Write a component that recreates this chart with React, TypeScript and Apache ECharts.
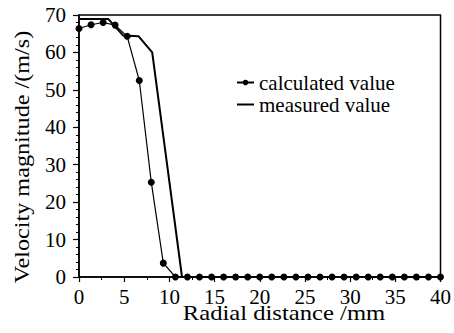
import React, { useEffect, useRef } from "react";
import * as echarts from "echarts";

const calcX = [0, 1.33, 2.67, 4, 5.33, 6.67, 8, 9.33, 10.67, 12, 13.33, 14.67, 16, 17.33, 18.67, 20, 21.33, 22.67, 24, 25.33, 26.67, 28, 29.33, 30.67, 32, 33.33, 34.67, 36, 37.33, 38.67, 40];
const calcY = [66.4, 67.4, 68.0, 67.3, 64.3, 52.5, 25.3, 3.7, 0, 0, 0, 0, 0, 0, 0, 0, 0, 0, 0, 0, 0, 0, 0, 0, 0, 0, 0, 0, 0, 0, 0];
const measX = [0, 3.25, 4.9, 6.6, 8.1, 11.4, 40];
const measY = [68.9, 68.9, 64.5, 64.3, 60, 0, 0];
const seriesNames = ["calculated value", "measured value"];
const xTitle = "Radial distance /mm";
const yTitle = "Velocity magnitude /(m/s)";

const FONT = "Liberation Serif";

export default function App() {
  const ref = useRef<HTMLDivElement>(null);
  useEffect(() => {
    if (!ref.current) return;
    const chart = echarts.init(ref.current, undefined, { renderer: "svg" });
    chart.setOption({
      animation: false,
      backgroundColor: "#fff",
      textStyle: { fontFamily: FONT, color: "#000" },
      grid: {
        left: 79, right: 12, top: 15, bottom: 56,
        show: true, borderColor: "#000", borderWidth: 1.5,
      },
      legend: {
        orient: "vertical",
        left: 231,
        top: 67,
        itemWidth: 17,
        itemHeight: 7,
        itemGap: 1,
        textStyle: { fontFamily: FONT, fontSize: 21, color: "#000" },
        data: [
          { name: seriesNames[0] },
          { name: seriesNames[1], icon: "path://M0,0H17V2H0Z" },
        ],
      },
      graphic: [
        {
          type: "text", x: 284, y: 312, scaleX: 1.12,
          style: { text: xTitle, fontFamily: FONT, fontSize: 22, fill: "#000", align: "center", verticalAlign: "middle" },
        },
        {
          type: "text", x: 21, y: 157, rotation: Math.PI / 2, scaleX: 1.1,
          style: { text: yTitle, fontFamily: FONT, fontSize: 22, fill: "#000", align: "center", verticalAlign: "middle" },
        },
      ],
      xAxis: {
        type: "value",
        min: 0, max: 40, interval: 5,
        axisLine: { lineStyle: { color: "#000", width: 1.5 } },
        axisTick: { show: true, length: 5, lineStyle: { color: "#000", width: 1.2 } },
        minorTick: { show: true, splitNumber: 2, length: 3, lineStyle: { color: "#000", width: 1 } },
        splitLine: { show: false },
        axisLabel: { fontFamily: FONT, fontSize: 21, color: "#000", margin: 9 },
      },
      yAxis: {
        type: "value",
        min: 0, max: 70, interval: 10,
        axisLine: { show: true, lineStyle: { color: "#000", width: 1.5 } },
        axisTick: { show: true, length: 6, lineStyle: { color: "#000", width: 1.2 } },
        minorTick: { show: true, splitNumber: 5, length: 3, lineStyle: { color: "#000", width: 1 } },
        splitLine: { show: false },
        axisLabel: { fontFamily: FONT, fontSize: 21, color: "#000", margin: 13 },
      },
      series: [
        {
          name: seriesNames[0],
          type: "line",
          data: calcX.map((x, i) => [x, calcY[i]]),
          symbol: "circle",
          symbolSize: 7,
          itemStyle: { color: "#000" },
          lineStyle: { color: "#000", width: 1.2 },
          z: 3,
        },
        {
          name: seriesNames[1],
          type: "line",
          data: measX.map((x, i) => [x, measY[i]]),
          symbol: "none",
          itemStyle: { color: "#000" },
          lineStyle: { color: "#000", width: 2 },
          z: 2,
        },
      ],
    });
    return () => chart.dispose();
  }, []);
  return <div ref={ref} style={{ width: 454, height: 333, position: "absolute", left: 0, top: 0 }} />;
}
